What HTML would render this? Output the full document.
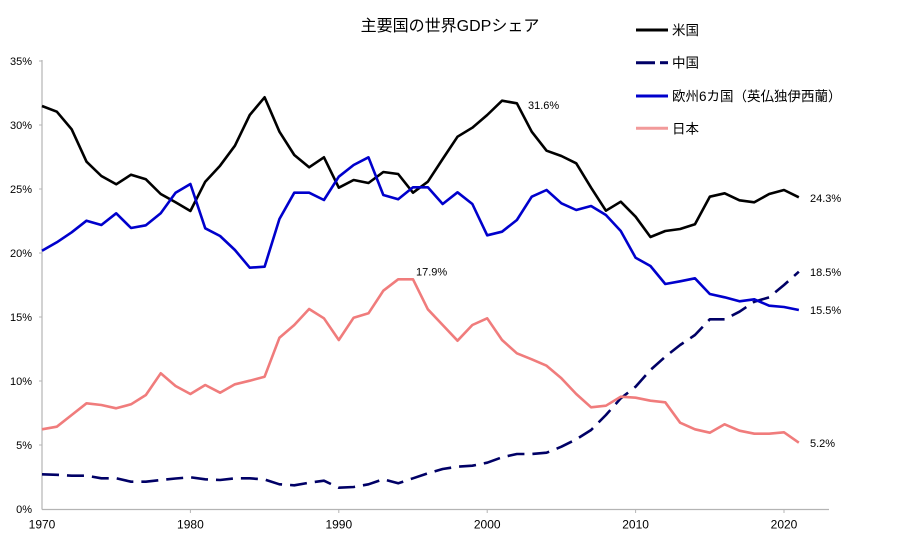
<!DOCTYPE html>
<html>
<head>
<meta charset="utf-8">
<style>
html,body{margin:0;padding:0;background:#fff;}
svg{display:block;}
text{font-family:"Liberation Sans","Noto Sans CJK JP",sans-serif;fill:#000;}
</style>
</head>
<body>
<svg width="900" height="549" viewBox="0 0 900 549" xmlns="http://www.w3.org/2000/svg">
<rect width="900" height="549" fill="#fff"/>
<!-- title -->
<text x="450" y="31" font-size="16" text-anchor="middle">主要国の世界GDPシェア</text>

<!-- axes -->
<line x1="42" y1="60" x2="42" y2="509.5" stroke="#b4b4b4" stroke-width="1.2"/>
<line x1="42" y1="509.5" x2="829" y2="509.5" stroke="#b4b4b4" stroke-width="1.2"/>
<g stroke="#b4b4b4" stroke-width="1">
<line x1="39" y1="61" x2="42" y2="61"/>
<line x1="39" y1="125" x2="42" y2="125"/>
<line x1="39" y1="189" x2="42" y2="189"/>
<line x1="39" y1="253" x2="42" y2="253"/>
<line x1="39" y1="317" x2="42" y2="317"/>
<line x1="39" y1="381" x2="42" y2="381"/>
<line x1="39" y1="445" x2="42" y2="445"/>
<line x1="190.4" y1="509" x2="190.4" y2="513"/>
<line x1="338.8" y1="509" x2="338.8" y2="513"/>
<line x1="487.2" y1="509" x2="487.2" y2="513"/>
<line x1="635.6" y1="509" x2="635.6" y2="513"/>
<line x1="784" y1="509" x2="784" y2="513"/>
</g>

<!-- y labels -->
<g font-size="11" text-anchor="end">
<text x="32" y="65">35%</text>
<text x="32" y="129">30%</text>
<text x="32" y="193">25%</text>
<text x="32" y="257">20%</text>
<text x="32" y="321">15%</text>
<text x="32" y="385">10%</text>
<text x="32" y="449">5%</text>
<text x="32" y="513">0%</text>
</g>
<!-- x labels -->
<g font-size="12" text-anchor="middle">
<text x="42" y="528.5">1970</text>
<text x="190.4" y="528.5">1980</text>
<text x="338.8" y="528.5">1990</text>
<text x="487.2" y="528.5">2000</text>
<text x="635.6" y="528.5">2010</text>
<text x="784" y="528.5">2020</text>
</g>

<!-- US -->
<polyline fill="none" stroke="#000" stroke-width="2.6" stroke-linejoin="round" points="
42,106 56.84,111.7 71.68,129.3 86.52,161.7 101.36,176 116.2,184.3 131.04,174.7 145.88,179.3 160.72,194 175.56,202.3
190.4,211 205.24,181.7 220.08,165.7 234.92,145.7 249.76,115 264.6,97.3 279.44,131.7 294.28,155 309.12,167.3 323.96,157.3
338.8,187.7 353.64,180 368.48,183 383.32,172 398.16,174 413,192.7 427.84,181.7 442.68,159 457.52,136.7 472.36,127.7
487.2,115 502.04,100.7 516.88,103.3 531.72,131.7 546.56,150.7 561.4,156 576.24,163.3 591.08,187.7 605.92,210.7 620.76,201.7
635.6,216.7 650.44,237 665.28,231 680.12,229 694.96,224.3 709.8,196.7 724.64,193.3 739.48,200.3 754.32,202.3 769.16,194
784,190 798.84,197.3"/>

<!-- China -->
<polyline fill="none" stroke="#000066" stroke-width="2.6" stroke-dasharray="17,8" stroke-linejoin="round" points="
42,474.3 56.84,474.8 71.68,475.7 86.52,475.7 101.36,478.3 116.2,478.3 131.04,481.7 145.88,481.7 160.72,480 175.56,478.5
190.4,477.3 205.24,479.3 220.08,480 234.92,478.3 249.76,478.3 264.6,479.5 279.44,484.3 294.28,485.3 309.12,482.7 323.96,480.7
338.8,487.7 353.64,487 368.48,484.3 383.32,479.3 398.16,483.3 413,478.3 427.84,473.3 442.68,469 457.52,466.7 472.36,465.7
487.2,462.7 502.04,457.3 516.88,454 531.72,454 546.56,452.7 561.4,446.7 576.24,439.3 591.08,430 605.92,415 620.76,398.3
635.6,386.7 650.44,370 665.28,356.7 680.12,345 694.96,335 709.8,319.3 724.64,319.3 739.48,311.7 754.32,301.7 769.16,297.3
784,285 798.84,271.7"/>

<!-- Europe -->
<polyline fill="none" stroke="#0000cc" stroke-width="2.6" stroke-linejoin="round" points="
42,250.7 56.84,242.3 71.68,232.3 86.52,220.7 101.36,225 116.2,213.3 131.04,228 145.88,225.3 160.72,213.3 175.56,192.7
190.4,184 205.24,228.3 220.08,236 234.92,250 249.76,267.7 264.6,266.7 279.44,219 294.28,192.7 309.12,192.7 323.96,200
338.8,176.7 353.64,165 368.48,157.3 383.32,195 398.16,199.3 413,187.3 427.84,187.3 442.68,204 457.52,192.3 472.36,204
487.2,235.3 502.04,231.7 516.88,220 531.72,196.7 546.56,190 561.4,203.3 576.24,210 591.08,206 605.92,215 620.76,231
635.6,257.7 650.44,266 665.28,284 680.12,281.3 694.96,278.3 709.8,294 724.64,297.3 739.48,301.3 754.32,299.3 769.16,305.7
784,307 798.84,310"/>

<!-- Japan -->
<polyline fill="none" stroke="#f07c7c" stroke-width="2.6" stroke-linejoin="round" points="
42,429.3 56.84,426.7 71.68,415 86.52,403.3 101.36,405 116.2,408.3 131.04,404.3 145.88,395 160.72,373.3 175.56,386
190.4,394 205.24,385 220.08,392.7 234.92,384.3 249.76,380.7 264.6,376.7 279.44,337.7 294.28,325 309.12,309 323.96,318.3
338.8,340 353.64,317.7 368.48,313.3 383.32,290.7 398.16,279.3 413,279.3 427.84,309.3 442.68,325 457.52,340.7 472.36,325
487.2,318.3 502.04,340 516.88,353.3 531.72,359.3 546.56,365.7 561.4,378.3 576.24,394 591.08,407.3 605.92,405.7 620.76,396.7
635.6,397.7 650.44,400.7 665.28,402.3 680.12,422.7 694.96,429.3 709.8,432.7 724.64,424.3 739.48,430.7 754.32,433.7 769.16,433.7
784,432.3 798.84,442.7"/>

<!-- data labels -->
<g font-size="11">
<text x="528" y="109">31.6%</text>
<text x="416" y="275.5">17.9%</text>
<text x="810" y="202">24.3%</text>
<text x="810" y="276">18.5%</text>
<text x="810" y="314">15.5%</text>
<text x="810" y="447">5.2%</text>
</g>

<!-- legend -->
<line x1="636" y1="30" x2="668" y2="30" stroke="#000" stroke-width="3"/>
<text x="672" y="35" font-size="13.5">米国</text>
<line x1="636" y1="62.7" x2="655" y2="62.7" stroke="#000066" stroke-width="3"/>
<line x1="660" y1="62.7" x2="668" y2="62.7" stroke="#000066" stroke-width="3"/>
<text x="672" y="67.7" font-size="13.5">中国</text>
<line x1="636" y1="96" x2="668" y2="96" stroke="#0000cc" stroke-width="3"/>
<text x="672" y="101" font-size="13.5">欧州6カ国（英仏独伊西蘭）</text>
<line x1="636" y1="128.3" x2="668" y2="128.3" stroke="#f29a9a" stroke-width="3"/>
<text x="672" y="133.3" font-size="13.5">日本</text>
</svg>
</body>
</html>
